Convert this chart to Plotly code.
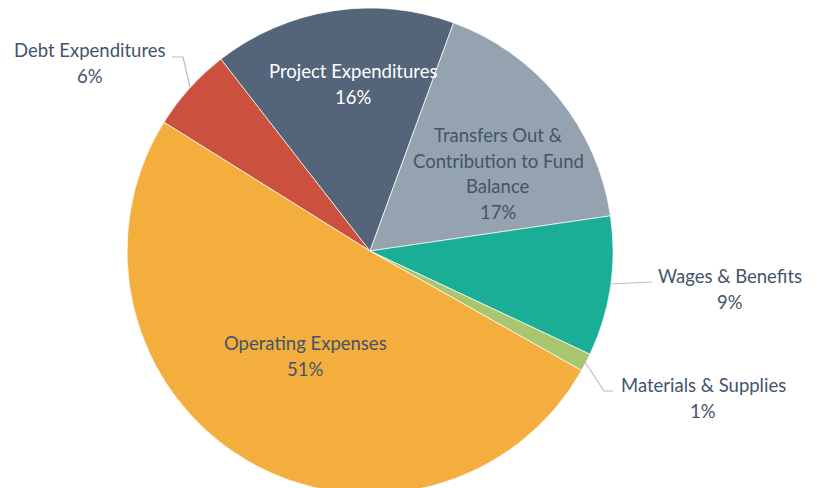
import plotly.graph_objects as go

labels = ["Debt Expenditures", "Project Expenditures",
          "Transfers Out & Contribution to Fund Balance",
          "Wages & Benefits", "Materials & Supplies", "Operating Expenses"]
values = [5.6, 16.1, 17.1, 9.3, 1.2, 50.7]
colors = ["#CB503D", "#546479", "#95A3B1", "#1BAE97", "#A8C56F", "#F4AE3D"]
label_lines = [["Debt Expenditures"], ["Project Expenditures"],
               ["Transfers Out &", "Contribution to Fund", "Balance"],
               ["Wages & Benefits"], ["Materials & Supplies"], ["Operating Expenses"]]

W, H = 817, 500
OFF = 8  # page body margin
R = 243
CX, CY = 370 - OFF, R


def px(x, y):
    return (x - OFF) / W, 1 - (y - OFF) / H


fig = go.Figure(go.Pie(
    labels=labels, values=values, sort=False, direction="clockwise",
    rotation=-58,
    marker=dict(colors=colors, line=dict(color="white", width=0.7)),
    textinfo="none", hoverinfo="label+percent", showlegend=False,
    domain=dict(x=[(CX - R) / W, (CX + R) / W], y=[max(0, (H - CY - R) / H), min(1, (H - CY + R) / H)]),
))

total = sum(values)
# label anchor: center x and first-line y (pixels), and font colors
label_pos = [(90, 50), (353, 71), (498, 135), (730, 276), (703, 385), (305, 343)]
label_col = ["#44546A", "#FFFFFF", "#44546A", "#44546A", "#44546A", "#44546A"]
LINE = 25.7
for i, lab in enumerate(labels):
    pct = round(values[i] / total * 100)
    lines = label_lines[i] + [f"{pct}%"]
    for k, ln in enumerate(lines):
        x, y = px(label_pos[i][0], label_pos[i][1] + k * LINE)
        fig.add_annotation(x=x, y=y, xref="paper", yref="paper", text=ln,
                           showarrow=False, xanchor="center", yanchor="middle",
                           font=dict(family="Lato, Noto Sans, sans-serif", size=18.5,
                                     color=label_col[i]),
                           align="center")

# leader lines
leaders = [
    [(172, 57), (183, 57), (190, 87)],
    [(610, 284), (652, 282)],
    [(585, 362), (604, 391), (613, 391)],
]
for pts in leaders:
    path = "M " + " L ".join(f"{px(a, b)[0]},{px(a, b)[1]}" for a, b in pts)
    fig.add_shape(type="path", path=path, xref="paper", yref="paper",
                  line=dict(color="#B4BDC8", width=1.2))

fig.update_layout(width=W, height=H, margin=dict(l=0, r=0, t=0, b=0),
                  paper_bgcolor="white", plot_bgcolor="white")
fig.write_html("out.html")
